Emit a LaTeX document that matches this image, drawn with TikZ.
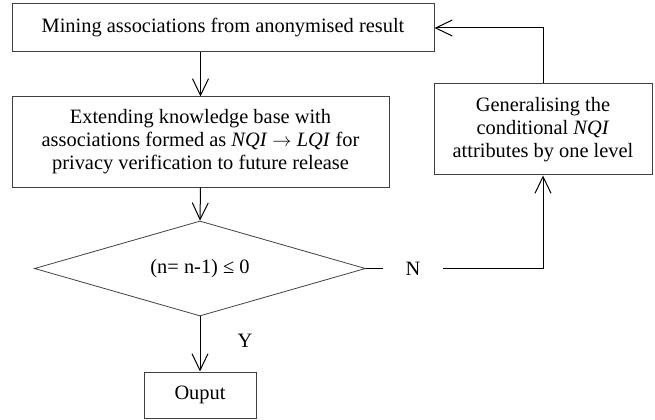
\documentclass[tikz,border=0pt]{standalone}
\usepackage{fontspec}
\setmainfont{Liberation Serif}
\usetikzlibrary{shapes.geometric,arrows.meta}

\tikzset{
  box/.style={draw=black!75, line width=0.75pt, rectangle, inner sep=0pt, align=center},
  decision/.style={draw=black!75, line width=0.6pt, diamond, aspect=3.48, inner sep=0pt},
  arr/.style={line width=0.75pt, -{Straight Barb[length=12.5pt,width=12pt,line width=0.75pt]}},
  lbl/.style={inner sep=0pt}
}

\begin{document}
\begin{tikzpicture}[x=0.75pt,y=-0.75pt]
\fontsize{15.3}{17.25}\selectfont
\useasboundingbox (0,0) rectangle (655,420);

% BOXES
% mining step
\node[box, minimum width=316.5pt, minimum height=36pt] (mine) at (223,28)
  {Mining associations from anonymised result};
% knowledge base step
\node[box, minimum width=282.75pt, minimum height=67.5pt] (extend) at (200.5,142)
  {Extending knowledge base with\\associations formed as \textit{NQI} $\rightarrow$ \textit{LQI} for\\privacy verification to future release};
% test on n
\node[decision, minimum width=248.25pt, minimum height=71.25pt] (check) at (200,268.5)
  {(n= n-1) ≤ 0};
% result
\node[box, minimum width=84pt, minimum height=34.5pt] (out) at (200,395) {Ouput};
% generalisation step
\node[box, minimum width=163.5pt, minimum height=68.25pt] (gen) at (543,129.5)
  {Generalising the\\conditional \textit{NQI}\\attributes by one level};

% LABELS
\node[lbl, minimum width=45pt] (nlab) at (413,268.5) {N};
\node[lbl] (ylab) at (245,341) {Y};

% CONNECTORS
\draw[arr] (mine.south -| extend.north) -- (extend.north);
\draw[arr] (extend.south) -- (check.north);
\draw[arr] (check.south) -- (out.north);
% no branch
\draw[line width=0.75pt] (check.east) -- (nlab.west);
\draw[arr] (nlab.east) -| (gen.south);
% back to mining
\draw[arr] (gen.north) |- (mine.east);

\end{tikzpicture}
\end{document}
